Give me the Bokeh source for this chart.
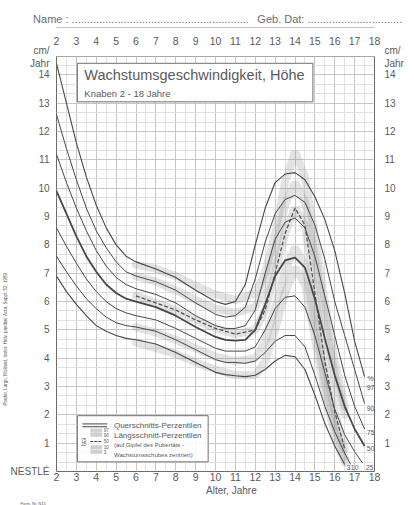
import math
from bokeh.plotting import figure
from bokeh.models import Range1d, LinearAxis, FixedTicker, Label, Title, AllLabels
from bokeh.embed import file_html
from bokeh.resources import INLINE

FONT = "Liberation Sans"
TXT = "#5a5a5a"

# ---------------- data ----------------
age_std = [2, 2.5, 3, 3.5, 4, 4.5, 5, 5.5, 6, 7, 8, 9, 10, 10.5, 11, 11.5,
           12, 12.5, 13, 13.5, 14, 14.5, 15, 15.5, 16, 16.5, 17, 17.5]

p97 = [14.4, 13.0, 11.6, 10.4, 9.4, 8.6, 8.0, 7.6, 7.4, 7.15, 6.85, 6.4, 6.0, 5.9, 6.0, 6.6,
       8.0, 9.3, 10.2, 10.5, 10.55, 10.3, 9.7, 8.9, 7.8, 6.3, 4.6, 3.35]
p90 = [12.6, 11.4, 10.3, 9.3, 8.5, 7.9, 7.4, 7.05, 6.9, 6.7, 6.4, 5.95, 5.55, 5.45, 5.5, 5.8,
       6.8, 8.1, 9.1, 9.6, 9.75, 9.5, 8.7, 7.5, 6.0, 4.8, 3.6, 2.4]
p75 = [11.2, 10.2, 9.3, 8.5, 7.8, 7.25, 6.85, 6.6, 6.45, 6.25, 5.95, 5.5, 5.15, 5.05, 5.05, 5.15,
       5.7, 7.0, 8.2, 8.8, 8.95, 8.6, 7.6, 6.2, 4.8, 3.4, 2.3, 1.5]
p50 = [9.9, 9.1, 8.3, 7.6, 7.05, 6.6, 6.3, 6.1, 6.0, 5.8, 5.5, 5.1, 4.75, 4.65, 4.62, 4.65,
       5.0, 5.9, 6.9, 7.45, 7.55, 7.2, 6.1, 4.7, 3.4, 2.3, 1.5, 0.9]

age_25 = age_std[:27] + [17.4]
p25 = [8.6, 7.95, 7.35, 6.8, 6.35, 6.0, 5.75, 5.6, 5.5, 5.35, 5.05, 4.7, 4.35, 4.25, 4.25, 4.25,
       4.4, 5.0, 5.75, 6.15, 6.2, 5.8, 4.8, 3.5, 2.2, 1.3, 0.7, 0.3]
age_10 = age_std[:26] + [16.8]
p10 = [7.6, 7.05, 6.55, 6.1, 5.75, 5.45, 5.25, 5.15, 5.1, 4.95, 4.65, 4.3, 3.95, 3.85, 3.85, 3.82,
       3.9, 4.2, 4.6, 4.8, 4.8, 4.4, 3.4, 2.3, 1.4, 0.65, 0.25]
age_3 = age_std[:26]
p3 = [6.9, 6.35, 5.9, 5.5, 5.15, 4.95, 4.8, 4.7, 4.65, 4.5, 4.2, 3.85, 3.5, 3.42, 3.38, 3.35,
      3.4, 3.6, 3.9, 4.1, 4.05, 3.6, 2.7, 1.7, 0.9, 0.25]

# longitudinal percentiles (centred on peak height velocity)
age_long = [6, 7, 8, 9, 10, 11, 12, 12.5, 13, 13.5, 14, 14.5, 15, 15.5, 16, 16.5]
l97 = [7.3, 7.15, 6.9, 6.55, 6.25, 6.05, 6.3, 7.0, 8.4, 10.2, 11.3, 10.4, 8.3, 6.0, 3.9, 2.3]
l90 = [6.9, 6.7, 6.4, 6.05, 5.75, 5.6, 5.8, 6.5, 7.8, 9.4, 10.2, 9.5, 7.6, 5.4, 3.4, 2.0]
l50 = [6.2, 5.95, 5.7, 5.35, 5.05, 4.85, 5.0, 5.7, 7.0, 8.4, 9.3, 8.7, 6.3, 3.9, 2.1, 0.8]
l10 = [5.1, 4.9, 4.65, 4.35, 4.05, 3.9, 4.0, 4.6, 5.8, 7.1, 7.9, 7.3, 5.3, 3.2, 1.6, 0.5]
l3 = [4.55, 4.35, 4.15, 3.85, 3.6, 3.4, 3.4, 3.9, 5.0, 6.3, 7.2, 6.6, 4.7, 2.8, 1.3, 0.3]

x_ticks = list(range(2, 19))
y_ticks = list(range(1, 15))
Y_TOP = 14.64
unit_label = "cm/\nJahr"
name_text = "Name : " + "." * 58
date_text = "Geb. Dat: " + "." * 31
xlabel_text = "Alter, Jahre"
credit_text = "Prader, Largo, Molinari, Issler: Helv. paediat. Acta, Suppl. 52, 1989"
logo_text = "NESTLÉ"
form_text = "Form. Nr. N15"

# ---------------- figure ----------------
p = figure(width=414, height=505, x_range=Range1d(2, 18), y_range=Range1d(0, 14.65),
           output_backend="svg", toolbar_location=None,
           min_border_left=54, min_border_right=40, min_border_top=56, min_border_bottom=29,
           background_fill_color="white", border_fill_color="white")
p.outline_line_color = "#6a6a6a"
p.outline_line_width = 1

bottom_ax = p.below[0]
left_ax = p.left[0]


def style_axis(ax, ticks, standoff, fs="10px", overrides=None, color=TXT):
    ax.ticker = FixedTicker(ticks=ticks)
    ax.axis_line_color = None
    ax.major_tick_line_color = None
    ax.minor_tick_line_color = None
    ax.major_tick_out = 0
    ax.major_tick_in = 0
    ax.minor_tick_out = 0
    ax.minor_tick_in = 0
    ax.major_label_standoff = standoff
    ax.major_label_text_font = FONT
    ax.major_label_text_font_size = fs
    ax.major_label_text_color = color
    ax.major_label_policy = AllLabels()
    if overrides:
        ax.major_label_overrides = overrides


# top: tick labels, then the name line
top_ax = LinearAxis()
p.add_layout(top_ax, "above")
style_axis(top_ax, x_ticks, 12, "10.5px")
top_ax.axis_label = "\u00a0"
top_ax.axis_label_standoff = 0
top_ax.axis_label_text_font_size = "3px"

name_ax = LinearAxis()
p.add_layout(name_ax, "above")
style_axis(name_ax, [6.25, 15.75], 3, "11px", {6.25: name_text, 15.75: date_text}, "#6e6e6e")
name_ax.axis_line_color = "#c2c2c2"
name_ax.axis_line_width = 1

# bottom: tick labels, then axis title, then form number
style_axis(bottom_ax, x_ticks, 1, "10.5px")
xl_ax = LinearAxis()
p.add_layout(xl_ax, "below")
style_axis(xl_ax, [10.8], 1, "10px", {10.8: xlabel_text})
p.add_layout(Title(text=form_text, align="left", offset=-36, standoff=0, text_font=FONT,
                   text_font_size="4px", text_font_style="normal", text_color=TXT), "below")

# left: tick labels (+unit, logo), then the rotated credit line
style_axis(left_ax, [0] + y_ticks + [Y_TOP], 7, "10px", {0: logo_text, Y_TOP: unit_label})
p.add_layout(Title(text=credit_text, align="left", offset=66, standoff=0, text_font=FONT,
                   text_font_size="4.5px", text_font_style="normal", text_color=TXT), "left")

# right
right_ax = LinearAxis()
p.add_layout(right_ax, "right")
style_axis(right_ax, y_ticks + [Y_TOP], 10, "10px", {Y_TOP: unit_label})

# grid
xminor = [t + 0.5 for t in range(2, 18)]
yminor = [k / 3 for k in range(0, 45) if k % 3 != 0]
p.xgrid.ticker = FixedTicker(ticks=x_ticks, minor_ticks=xminor)
p.ygrid.ticker = FixedTicker(ticks=y_ticks, minor_ticks=yminor)
for g in (p.xgrid, p.ygrid):
    g.grid_line_color = "#c6c6c6"
    g.grid_line_width = 1
    g.minor_grid_line_color = "#e1e1e1"
    g.minor_grid_line_width = 1

# longitudinal bands (stippled grey)
for vals in (l97, l90, l50, l10, l3):
    p.line(age_long, vals, line_color="#8c8c8c", line_alpha=0.24, line_width=8, line_cap="round")
p.line(age_long, l50, line_color="#4a4a4a", line_width=1.2, line_dash="4 2")

# cross-sectional percentiles
curves = [(age_std, p97, 1.1), (age_std, p90, 1.0), (age_std, p75, 1.0), (age_std, p50, 1.8),
          (age_25, p25, 1.0), (age_10, p10, 1.0), (age_3, p3, 1.1)]
for xs, ys, w in curves:
    p.line(xs, ys, line_color="#474747", line_width=w)

# title box
p.quad(left=[3.05], right=[14.9], top=[14.41], bottom=[13.05], fill_color="white",
       line_color="#707070", line_width=1)
p.add_layout(Label(x=3.4, y=13.99, text="Wachstumsgeschwindigkeit, Höhe", text_font=FONT,
                   text_font_size="14.5px", text_color=TXT, text_baseline="middle"))
p.add_layout(Label(x=3.4, y=13.36, text="Knaben   2 - 18  Jahre", text_font=FONT,
                   text_font_size="9.5px", text_color=TXT, text_baseline="middle"))

# percentile labels at curve ends
lab_pos = [("%", 17.8, 3.3), ("97", 17.8, 2.98), ("90", 17.8, 2.21), ("75", 17.8, 1.38),
           ("50", 17.8, 0.82), ("25", 17.75, 0.13), ("10", 17.0, 0.13), ("3", 16.7, 0.13)]
for t, x, y in lab_pos:
    p.add_layout(Label(x=x, y=y, text=t, text_font=FONT, text_font_size="7px", text_color=TXT,
                       text_align="center", text_baseline="middle"))

# legend box
p.quad(left=[3.05], right=[9.63], top=[1.97], bottom=[0.34], fill_color="white", fill_alpha=0.85,
       line_color="#707070", line_width=1)
p.line([3.3, 4.55], [1.68, 1.68], line_color="#474747", line_width=1)
p.line([3.3, 4.55], [1.58, 1.58], line_color="#474747", line_width=1)
for y in (1.45, 1.3):
    p.line([3.7, 4.3], [y, y], line_color="#8c8c8c", line_alpha=0.4, line_width=4)
p.line([3.7, 4.3], [1.06, 1.06], line_color="#4a4a4a", line_width=1, line_dash="3 1")
for y in (0.86, 0.7):
    p.line([3.7, 4.3], [y, y], line_color="#8c8c8c", line_alpha=0.4, line_width=4)
for t, y in (("97", 1.45), ("90", 1.28), ("50", 1.06), ("10", 0.86), ("3", 0.7)):
    p.add_layout(Label(x=4.38, y=y, text=t, text_font=FONT, text_font_size="4.5px",
                       text_color=TXT, text_baseline="middle"))
for t, y in (("75", 1.12), ("25", 0.98)):
    p.add_layout(Label(x=3.25, y=y, text=t, text_font=FONT, text_font_size="4.5px",
                       text_color=TXT, text_baseline="middle"))
leg_txt = [("Querschnitts-Perzentilen", 1.62, "8px"), ("Längsschnitt-Perzentilen", 1.27, "8px"),
           ("(auf Gipfel des Pubertäts -", 0.92, "6px"), ("Wachstumsschubes zentriert)", 0.6, "6px")]
for t, y, fs in leg_txt:
    p.add_layout(Label(x=4.89, y=y, text=t, text_font=FONT, text_font_size=fs,
                       text_color=TXT, text_baseline="middle"))

open("out.html", "w").write(file_html(p, INLINE))
